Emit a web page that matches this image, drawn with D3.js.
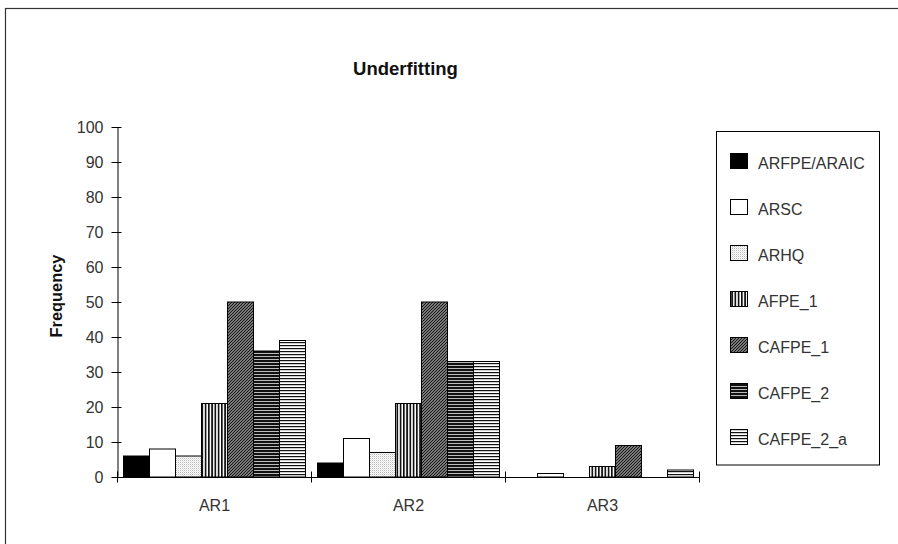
<!DOCTYPE html>
<html><head><meta charset="utf-8">
<script src="https://cdn.jsdelivr.net/npm/d3@7"></script>
<style>html,body{margin:0;padding:0;background:#fff;}svg{display:block;}</style>
</head><body>
<script>
const categories = ["AR1", "AR2", "AR3"];
const seriesNames = ["ARFPE/ARAIC", "ARSC", "ARHQ", "AFPE_1", "CAFPE_1", "CAFPE_2", "CAFPE_2_a"];
const ARFPE_ARAIC = [6, 4, 0];
const ARSC = [8, 11, 1];
const ARHQ = [6, 7, 0];
const AFPE_1 = [21, 21, 3];
const CAFPE_1 = [50, 50, 9];
const CAFPE_2 = [36, 33, 0];
const CAFPE_2_a = [39, 33, 2];
const yTicks = [0, 10, 20, 30, 40, 50, 60, 70, 80, 90, 100];
const title = "Underfitting";
const yLabel = "Frequency";

const seriesValues = [ARFPE_ARAIC, ARSC, ARHQ, AFPE_1, CAFPE_1, CAFPE_2, CAFPE_2_a];
const fills = ["#000", "#fff", "url(#pDots)", "url(#pVert)", "url(#pDiag)", "url(#pHorizDark)", "url(#pHorizLight)"];

const W = 898, H = 544;
const svg = d3.select("body").append("svg").attr("width", W).attr("height", H);
const defs = svg.append("defs");

// patterns
const pd = defs.append("pattern").attr("id", "pDots").attr("patternUnits", "userSpaceOnUse").attr("width", 2).attr("height", 2);
pd.append("rect").attr("width", 2).attr("height", 2).attr("fill", "#fff");
pd.append("rect").attr("width", 1).attr("height", 1).attr("fill", "#b8b8b8");
pd.append("rect").attr("x", 1).attr("y", 1).attr("width", 1).attr("height", 1).attr("fill", "#e4e4e4");

const pv = defs.append("pattern").attr("id", "pVert").attr("patternUnits", "userSpaceOnUse").attr("width", 3.25).attr("height", 4);
pv.append("rect").attr("width", 3.25).attr("height", 4).attr("fill", "#fff");
pv.append("rect").attr("width", 1.7).attr("height", 4).attr("fill", "#111");

const pg = defs.append("pattern").attr("id", "pDiag").attr("patternUnits", "userSpaceOnUse").attr("width", 3).attr("height", 3);
pg.append("rect").attr("width", 3).attr("height", 3).attr("fill", "#a8a8a8");
pg.append("path").attr("d", "M0,3 L3,0 M-1,1 L1,-1 M2,4 L4,2").attr("stroke", "#111").attr("stroke-width", 1.2);

const ph = defs.append("pattern").attr("id", "pHorizDark").attr("patternUnits", "userSpaceOnUse").attr("width", 6).attr("height", 3);
ph.append("rect").attr("width", 6).attr("height", 3).attr("fill", "#111");
ph.append("rect").attr("y", 2).attr("width", 6).attr("height", 1).attr("fill", "#bbb");

const pl = defs.append("pattern").attr("id", "pHorizLight").attr("patternUnits", "userSpaceOnUse").attr("width", 6).attr("height", 3);
pl.append("rect").attr("width", 6).attr("height", 3).attr("fill", "#fff");
pl.append("rect").attr("y", 0).attr("width", 6).attr("height", 1.2).attr("fill", "#111");

// outer frame
svg.append("rect").attr("x", 5.5).attr("y", 8.5).attr("width", 900).attr("height", 550)
  .attr("fill", "none").attr("stroke", "#333").attr("stroke-width", 1.2);

const font = "'Liberation Sans', Arial, sans-serif";

// scales
const x0 = d3.scaleBand().domain(categories).range([117.5, 699.5]).paddingInner(0).paddingOuter(0);
const x1 = d3.scaleBand().domain(seriesNames).range([6, x0.bandwidth() - 6]).padding(0);
const y = d3.scaleLinear().domain([0, 100]).range([477, 127]);

// bars
const g = svg.append("g");
categories.forEach((cat, ci) => {
  seriesNames.forEach((s, si) => {
    const v = seriesValues[si][ci];
    if (v <= 0) return;
    g.append("rect")
      .attr("x", x0(cat) + x1(s))
      .attr("y", y(v))
      .attr("width", x1.bandwidth())
      .attr("height", y(0) - y(v))
      .attr("fill", fills[si])
      .attr("stroke", "#000").attr("stroke-width", 1);
  });
});

// y axis
const yAxis = d3.axisLeft(y).tickValues(yTicks).tickSizeInner(6).tickSizeOuter(0).tickPadding(8);
const ya = svg.append("g").attr("transform", "translate(117.5,0)").call(yAxis);
ya.select(".domain").attr("stroke", "#000");
ya.selectAll(".tick line").attr("stroke", "#000").attr("x2", 4).attr("x1", -6);
ya.selectAll(".tick text").attr("font-family", font).attr("font-size", 16).attr("fill", "#333").attr("x", -14);

// x axis
const xa = svg.append("g").attr("transform", "translate(0,477)")
  .call(d3.axisBottom(x0).tickSize(0).tickPadding(23));
xa.select(".domain").attr("stroke", "#000");
xa.selectAll(".tick text").attr("font-family", font).attr("font-size", 16).attr("fill", "#333");
const bounds = categories.map(c => x0(c)).concat([x0(categories[categories.length - 1]) + x0.bandwidth()]);
xa.selectAll(".bnd").data(bounds).enter().append("line")
  .attr("x1", d => d).attr("x2", d => d).attr("y1", -5.5).attr("y2", 5.5).attr("stroke", "#000");

// title
svg.append("text").attr("x", 405.5).attr("y", 75).attr("text-anchor", "middle")
  .attr("font-family", font).attr("font-weight", "bold").attr("font-size", 18.5).attr("fill", "#111").text(title);

// y label
svg.append("text").attr("transform", "translate(62,296) rotate(-90)").attr("text-anchor", "middle")
  .attr("font-family", font).attr("font-weight", "bold").attr("font-size", 16.4).attr("fill", "#111").text(yLabel);

// legend
svg.append("rect").attr("x", 716.5).attr("y", 131.5).attr("width", 163).attr("height", 333.5)
  .attr("fill", "#fff").attr("stroke", "#000").attr("stroke-width", 1);
const lg = svg.append("g");
seriesNames.forEach((s, i) => {
  const yy = 153 + i * 46;
  lg.append("rect").attr("x", 730.5).attr("y", yy + 0.5).attr("width", 17).attr("height", 15)
    .attr("fill", fills[i]).attr("stroke", "#000").attr("stroke-width", 1);
  lg.append("text").attr("x", 758).attr("y", yy + 16).attr("font-family", font).attr("font-size", 16)
    .attr("fill", "#333").text(s);
});
</script>
</body></html>
